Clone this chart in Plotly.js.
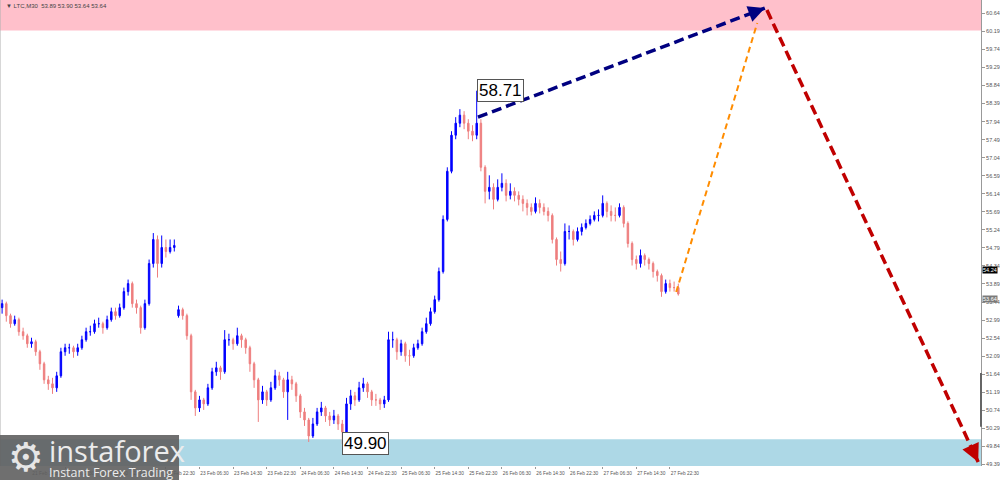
<!DOCTYPE html>
<html>
<head>
<meta charset="utf-8">
<script src="https://cdn.plot.ly/plotly-3.0.1.min.js"></script>
<style>html,body{margin:0;padding:0;background:#fff;}#chart{width:1000px;height:480px;}</style>
</head>
<body>
<div id="chart"></div>
<script>
// ---- hourly OHLC (LTC, 30-min chart, condensed) ----
const open = [53.30,53.40,53.10,52.90,53.00,52.70,52.60,52.40,52.45,52.20,
51.90,51.50,51.40,51.30,51.60,52.20,52.30,52.30,52.20,52.30,
52.50,52.70,52.70,52.90,52.90,52.80,53.00,53.20,53.10,53.30,
53.70,53.90,53.40,53.30,52.80,53.40,54.40,55.00,54.40,54.80,
54.70,54.80,53.10,53.25,53.10,52.60,51.20,50.80,51.00,50.90,
51.30,51.70,51.80,51.70,52.50,52.50,52.40,52.60,52.50,52.30,
51.90,51.50,51.00,51.20,51.00,51.30,51.60,51.50,51.20,51.50,
51.40,51.10,50.70,50.50,50.10,50.40,50.70,50.80,50.60,50.50,
50.60,50.40,50.20,50.90,51.10,51.00,51.30,51.40,51.20,51.00,
51.00,50.90,51.00,52.50,52.50,52.20,52.40,52.10,52.10,52.30,
52.40,52.70,52.90,53.20,53.50,54.20,55.50,56.70,57.60,57.90,
58.10,57.90,57.70,57.60,57.90,56.80,56.20,56.30,56.00,56.30,
56.40,56.10,56.20,56.10,56.00,55.90,55.80,55.70,55.90,55.80,
55.70,55.60,55.00,54.50,54.40,55.20,55.20,55.00,55.20,55.30,
55.40,55.50,55.60,55.60,55.90,55.70,55.60,55.60,55.80,55.40,
54.90,54.50,54.40,54.60,54.50,54.40,54.20,54.10,53.70,53.90,
53.80,53.80];
const high = [53.50,53.45,53.15,53.10,53.05,52.80,52.65,52.55,52.50,52.25,
51.95,51.60,51.55,51.70,52.30,52.40,52.40,52.35,52.40,52.60,
52.80,52.85,53.00,53.05,52.95,53.10,53.30,53.30,53.40,53.80,
54.00,53.95,53.50,53.35,53.50,54.50,55.16,55.10,55.10,55.00,
55.00,55.00,53.35,53.30,53.15,52.65,51.25,51.10,51.05,51.40,
51.80,51.95,51.85,52.74,52.65,52.55,52.80,52.65,52.55,52.35,
51.95,51.55,51.35,51.25,51.45,51.75,51.70,51.55,51.70,51.60,
51.45,51.15,50.80,50.55,50.55,50.80,50.95,50.85,50.70,50.75,
50.65,50.50,51.05,51.25,51.20,51.45,51.55,51.45,51.25,51.15,
51.05,51.10,52.70,52.70,52.55,52.50,52.45,52.25,52.40,52.50,
52.80,53.05,53.30,53.60,54.30,55.60,56.80,57.70,58.05,58.25,
58.20,58.00,57.85,58.71,58.00,56.85,56.60,56.40,56.50,56.65,
56.50,56.40,56.30,56.20,56.10,56.00,55.90,56.05,56.00,55.90,
55.80,55.65,55.05,54.70,55.40,55.35,55.25,55.30,55.40,55.50,
55.60,55.70,55.75,56.10,55.95,55.85,55.80,55.90,55.85,55.45,
54.95,54.60,54.75,54.65,54.55,54.45,54.25,54.15,54.00,54.00,
53.95,53.90];
const low = [53.15,52.95,52.80,52.85,52.60,52.50,52.30,52.30,52.10,51.75,
51.40,51.25,51.15,51.20,51.55,52.10,52.15,52.05,52.10,52.25,
52.45,52.60,52.65,52.80,52.65,52.75,52.95,53.00,53.05,53.25,
53.60,53.30,53.15,52.65,52.75,53.35,54.30,54.05,54.30,54.55,
54.65,54.70,53.05,53.00,52.50,51.00,50.60,50.70,50.75,50.85,
51.25,51.60,51.50,51.65,52.35,52.25,52.35,52.30,52.15,51.70,
51.30,50.45,50.90,50.85,50.95,51.25,51.35,51.05,50.50,51.25,
50.95,50.55,50.35,49.95,50.05,50.35,50.60,50.45,50.35,50.40,
50.25,49.90,50.15,50.75,50.85,50.95,51.20,51.05,50.85,50.85,
50.75,50.80,50.95,52.30,52.00,52.10,51.95,51.85,52.05,52.25,
52.35,52.65,52.85,53.15,53.45,54.15,55.45,56.65,57.50,57.80,
57.75,57.50,57.45,57.50,56.70,55.90,56.00,55.75,55.95,56.20,
55.95,56.00,55.95,55.85,55.70,55.60,55.60,55.65,55.65,55.60,
55.45,54.90,54.35,54.20,54.35,55.00,54.85,54.95,55.10,55.25,
55.35,55.45,55.45,55.55,55.55,55.45,55.45,55.55,55.30,54.80,
54.35,54.25,54.30,54.35,54.25,54.05,53.95,53.57,53.65,53.70,
53.70,53.60];
const close = [53.40,53.10,52.90,53.00,52.70,52.60,52.40,52.45,52.20,51.90,
51.50,51.40,51.30,51.60,52.20,52.30,52.30,52.20,52.30,52.50,
52.70,52.70,52.90,52.90,52.80,53.00,53.20,53.10,53.30,53.70,
53.90,53.40,53.30,52.80,53.40,54.40,55.00,54.40,54.80,54.70,
54.80,54.85,53.25,53.10,52.60,51.20,50.80,51.00,50.90,51.30,
51.70,51.80,51.70,52.50,52.50,52.40,52.60,52.50,52.30,51.90,
51.50,51.00,51.20,51.00,51.30,51.60,51.50,51.20,51.50,51.40,
51.10,50.70,50.50,50.10,50.40,50.70,50.80,50.60,50.50,50.60,
50.40,50.20,50.90,51.10,51.00,51.30,51.40,51.20,51.00,51.00,
50.90,51.00,52.50,52.50,52.20,52.40,52.10,52.10,52.30,52.40,
52.70,52.90,53.20,53.50,54.20,55.50,56.70,57.60,57.90,58.10,
57.90,57.70,57.60,57.90,56.80,56.20,56.30,56.00,56.30,56.40,
56.10,56.20,56.10,56.00,55.90,55.80,55.70,55.90,55.80,55.70,
55.60,55.00,54.50,54.40,55.20,55.20,55.00,55.20,55.30,55.40,
55.50,55.60,55.60,55.90,55.70,55.60,55.60,55.80,55.40,54.90,
54.50,54.40,54.60,54.50,54.40,54.20,54.10,53.70,53.90,53.80,
53.80,53.64];

// ---- axis tick values and labels ----
const xTickPos = [7,15,23,31,39,47,55,63,71,79,87,95,103,111,119,127,135,143,151,159];
const xTickText = ['21 Feb 14:30','21 Feb 22:30','22 Feb 06:30','22 Feb 14:30','22 Feb 22:30',
  '23 Feb 06:30','23 Feb 14:30','23 Feb 22:30','24 Feb 06:30','24 Feb 14:30','24 Feb 22:30',
  '25 Feb 06:30','25 Feb 14:30','25 Feb 22:30','26 Feb 06:30','26 Feb 14:30','26 Feb 22:30',
  '27 Feb 06:30','27 Feb 14:30','27 Feb 22:30'];
const yTicks = [60.64,60.19,59.74,59.29,58.84,58.39,57.94,57.49,57.04,56.59,56.14,55.69,55.24,
  54.79,54.34,53.89,53.44,52.99,52.54,52.09,51.64,51.19,50.74,50.29,49.84,49.39];

// ---- zones, forecast waves, marked extremes ----
const resistanceZone = [60.21, 61.2];
const supportZone = [49.0, 50.02];
const waveNavyX = [113.3, 181.6],  waveNavyY = [58.05, 60.77];
const waveOrangeX = [160.5, 179.8], waveOrangeY = [53.69, 60.40];
const waveRedX = [182.1, 232.4],   waveRedY = [60.72, 49.45];
const extremeIdx = [113, 81];
const extremeVal = [58.71, 49.90];
const headerText = '\u25BC LTC,M30  53.89 53.90 53.64 53.64';
const levelBlack = 54.24, levelGray = 53.64, levelGrayPos = 53.52;

const barIndex = close.map((_, i) => i);

const traces = [
  {type:'candlestick', x:barIndex, open:open, high:high, low:low, close:close,
   increasing:{line:{color:'#0000ff', width:1}, fillcolor:'#0000ff'},
   decreasing:{line:{color:'#ee7f7f', width:1}, fillcolor:'#ee7f7f'},
   whiskerwidth:0, hoverinfo:'skip', showlegend:false},
  {type:'scatter', mode:'lines', x:waveOrangeX, y:waveOrangeY,
   line:{color:'#ff8c00', width:2, dash:'6px,4px'}, hoverinfo:'skip', showlegend:false},
  {type:'scatter', mode:'lines', x:waveNavyX, y:waveNavyY,
   line:{color:'#000080', width:3.5, dash:'10px,5px'}, hoverinfo:'skip', showlegend:false},
  {type:'scatter', mode:'lines', x:waveRedX, y:waveRedY,
   line:{color:'#c00000', width:3.5, dash:'10px,5px'}, hoverinfo:'skip', showlegend:false}
];

const ff = 'Liberation Sans, Arial, sans-serif';
const annotations = [
  {x:waveNavyX[1], y:waveNavyY[1], ax:-15, ay:5.7, text:'', showarrow:true, arrowhead:2,
   arrowsize:1.1, arrowwidth:3, arrowcolor:'#000080'},
  {x:waveRedX[1], y:waveRedY[1], ax:-7, ay:-15, text:'', showarrow:true, arrowhead:2,
   arrowsize:1.2, arrowwidth:3, arrowcolor:'#c00000'},
  {x:extremeIdx[0], y:extremeVal[0], text:extremeVal[0].toFixed(2), xanchor:'left', yanchor:'middle',
   showarrow:false, font:{family:ff, size:17, color:'#000'}, bgcolor:'#fff', bordercolor:'#555',
   borderwidth:1, borderpad:1},
  {x:extremeIdx[1], y:extremeVal[1], text:extremeVal[1].toFixed(2), xanchor:'left', yanchor:'middle',
   showarrow:false, font:{family:ff, size:17, color:'#000'}, bgcolor:'#fff', bordercolor:'#555',
   borderwidth:1, borderpad:1},
  {xref:'paper', yref:'paper', x:0.004, y:1, xanchor:'left', yanchor:'top', yshift:-1,
   text:headerText, showarrow:false, font:{family:ff, size:6, color:'#444'}},
  {xref:'paper', yref:'y', x:1, y:levelBlack, xanchor:'left', yanchor:'middle', xshift:1,
   text:levelBlack.toFixed(2), showarrow:false, bgcolor:'#000', borderpad:0,
   font:{family:ff, size:5.5, color:'#fff'}},
  {xref:'paper', yref:'y', x:1, y:levelGrayPos, xanchor:'left', yanchor:'middle', xshift:1,
   text:levelGray.toFixed(2), showarrow:false, bgcolor:'#7a7a7a', borderpad:0,
   font:{family:ff, size:5.5, color:'#fff'}},
  // instaforex watermark
  {xref:'paper', yref:'paper', x:0.026, y:0.019, xanchor:'center', yanchor:'middle',
   text:'\u2699', showarrow:false, font:{family:'DejaVu Sans', size:40, color:'#e6e6e6'}},
  {xref:'paper', yref:'paper', x:0.048, y:0.034, xanchor:'left', yanchor:'middle',
   text:'instaforex', showarrow:false, font:{family:'Open Sans, sans-serif', size:29, color:'#ececec'}},
  {xref:'paper', yref:'paper', x:0.048, y:-0.013, xanchor:'left', yanchor:'middle',
   text:'Instant Forex Trading', showarrow:false, font:{family:'Open Sans, sans-serif', size:12.5, color:'#ececec'}}
];

const shapes = [
  {type:'rect', xref:'paper', yref:'y', x0:0, x1:1, y0:resistanceZone[0], y1:resistanceZone[1],
   fillcolor:'#ffc0cb', line:{width:0}, layer:'below'},
  {type:'rect', xref:'paper', yref:'y', x0:0, x1:1, y0:supportZone[0], y1:supportZone[1],
   fillcolor:'#add8e6', line:{width:0}, layer:'below'},
  {type:'line', xref:'paper', yref:'paper', x0:0, x1:0, y0:0, y1:1, line:{color:'#b0b0b0', width:1}},
  {type:'line', xref:'paper', yref:'y', x0:1, x1:1, y0:51.67, y1:50.33, line:{color:'#666', width:2}},
  {type:'rect', xref:'paper', yref:'paper', x0:0, x1:0.1825, y0:-0.035, y1:0.0665,
   fillcolor:'rgba(95,95,95,0.9)', line:{width:0}, layer:'above'}
];

const layout = {
  width:1000, height:480,
  margin:{l:0, r:19, t:0, b:14, pad:0},
  paper_bgcolor:'#fff', plot_bgcolor:'#fff', showlegend:false,
  boxgap:0.5,
  font:{family:ff, size:6, color:'#555'},
  xaxis:{range:[-0.5, 233.07], tickmode:'array', tickvals:xTickPos, ticktext:xTickText,
    tickangle:0, automargin:false,
    ticks:'outside', ticklen:2, tickcolor:'#999', showgrid:false, zeroline:false, showline:false,
    rangeslider:{visible:false}, tickfont:{family:ff, size:4.8, color:'#555'}, ticklabelshift:15,
    fixedrange:true},
  yaxis:{side:'right', range:[49.351, 60.972], tickmode:'array', tickvals:yTicks,
    ticktext:yTicks.map(v => v.toFixed(2)), ticks:'outside', ticklen:3, tickcolor:'#999',
    showline:true, linecolor:'#999', linewidth:1, showgrid:false, zeroline:false, automargin:false,
    tickfont:{family:ff, size:5.5, color:'#555'}, fixedrange:true},
  annotations:annotations, shapes:shapes
};

Plotly.newPlot('chart', traces, layout, {displayModeBar:false, staticPlot:true});
</script>
</body>
</html>
